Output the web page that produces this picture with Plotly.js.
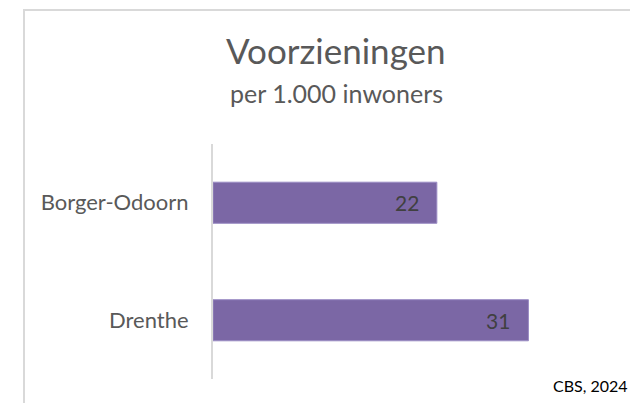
<!DOCTYPE html>
<html>
<head>
<meta charset="utf-8">
<script src="https://cdn.plot.ly/plotly-3.0.1.min.js"></script>
<style>
  html, body { margin: 0; padding: 0; background: #ffffff; }
  #wrap { position: relative; width: 630px; height: 403px; overflow: hidden; }
  #chart { position: absolute; left: 0; top: 0; width: 630px; height: 403px; }
  #frame { position: absolute; left: 23px; top: 9px; width: 620px; height: 420px;
           border-top: 2px solid #d9d9d9; border-left: 2px solid #d9d9d9; pointer-events: none; }
</style>
</head>
<body>
<div id="wrap">
  <div id="chart"></div>
  <div id="frame"></div>
</div>
<script>
const categories = ["Borger-Odoorn", "Drenthe"];
const values = [22, 31];
const labels = ["22", "31"];
const titleText = "Voorzieningen";
const subtitleText = "per 1.000 inwoners";
const sourceText = "CBS, 2024";

const FONT = "Lato, 'Open Sans', sans-serif";

const trace = {
  type: "bar",
  orientation: "h",
  y: categories,
  x: values,
  marker: { color: "#7B67A5", line: { color: "#9a8cc4", width: 1 } },
  hoverinfo: "skip",
  showlegend: false
};

const annotations = categories.map((c, i) => ({
  x: values[i], y: c, xref: "x", yref: "y",
  text: labels[i], showarrow: false,
  xanchor: "right", yanchor: "middle", xshift: -16,
  font: { family: FONT, size: 21, color: "#404040" }
}));

annotations.push({
  xref: "paper", yref: "paper", x: 0.5, y: 1,
  text: subtitleText, showarrow: false,
  xanchor: "center", yanchor: "middle",
  font: { family: FONT, size: 25, color: "#595959" }
});
annotations.push({
  text: sourceText, showarrow: false,
  xref: "paper", yref: "paper", x: 1.0, y: 0,
  xanchor: "right", yanchor: "middle",
  font: { family: FONT, size: 16, color: "#000000" }
});

const layout = {
  width: 630, height: 403,
  margin: { l: 213, r: 10, t: 144, b: 24 },
  paper_bgcolor: "#ffffff",
  plot_bgcolor: "#ffffff",
  title: {
    text: titleText,
    x: 0.533, xanchor: "center",
    y: 1 - 52 / 403, yanchor: "middle",
    yref: "container", xref: "container",
    font: { family: FONT, size: 35, color: "#595959" }
  },
  bargap: 0.65,
  xaxis: {
    range: [0, 40], showgrid: false, zeroline: false,
    showline: false, showticklabels: false, ticks: "", fixedrange: true
  },
  yaxis: {
    type: "category", autorange: "reversed",
    showgrid: false, zeroline: false,
    showline: true, linecolor: "#d9d9d9", linewidth: 2,
    ticks: "", ticklabelstandoff: 18,
    tickfont: { family: FONT, size: 22, color: "#595959" }
  },
  annotations: annotations
};

Plotly.newPlot("chart", [trace], layout, { displayModeBar: false, staticPlot: true }).then(() => {
  const plotH = 403 - 144 - 24;
  const plotW = 630 - 213 - 10;
  const subY = (403 - 24 - 93) / plotH;
  const subX = (336 - 213) / plotW;
  const srcY = (403 - 24 - 385) / plotH;
  const srcX = (630 - 213) / plotW;
  const n = annotations.length;
  Plotly.relayout("chart", {
    ["annotations[" + (n - 2) + "].x"]: subX,
    ["annotations[" + (n - 2) + "].y"]: subY,
    ["annotations[" + (n - 1) + "].x"]: srcX,
    ["annotations[" + (n - 1) + "].y"]: srcY
  });
});
</script>
</body>
</html>
